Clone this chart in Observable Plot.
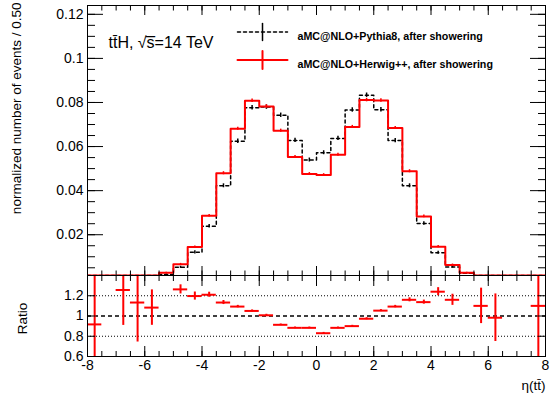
<!DOCTYPE html>
<html><head><meta charset="utf-8">
<script src="https://cdn.jsdelivr.net/npm/d3@7"></script>
<script src="https://cdn.jsdelivr.net/npm/@observablehq/plot@0.6"></script>
<style>
html,body{margin:0;padding:0;background:#fff;}
#chart{position:relative;width:556px;height:400px;font-family:"Liberation Sans",Arial,sans-serif;}
#chart svg{position:absolute;left:0;overflow:visible;background:transparent;}
</style></head><body><div id="chart"></div>
<script>
// ---- data ----
const binLow = [-8,-7.5,-7,-6.5,-6,-5.5,-5,-4.5,-4,-3.5,-3,-2.5,-2,-1.5,-1,-0.5,0,0.5,1,1.5,2,2.5,3,3.5,4,4.5,5,5.5,6,6.5,7,7.5];
const binWidth = 0.5;
const herwig = [0.0003,0.0001,0.0002,0.0004,0.0010,0.0027,0.0066,0.0144,0.0286,0.0479,0.0681,0.0808,0.0782,0.0672,0.0553,0.0476,
                0.0471,0.0563,0.0689,0.0811,0.0809,0.0684,0.0488,0.0283,0.0146,0.0063,0.0027,0.0008,0.0003,0.0001,0.0001,0.0002];
const herwigErr = [0.0001,0.0001,0.0001,0.0001,0.0002,0.0003,0.0004,0.0005,0.0006,0.0007,0.0007,0.0008,0.0008,0.0007,0.0007,0.0006,
                   0.0006,0.0007,0.0007,0.0008,0.0008,0.0007,0.0007,0.0006,0.0005,0.0004,0.0003,0.0002,0.0001,0.0001,0.0001,0.0001];
const pythia = [0.0003,0.0001,0.0002,0.0003,0.0009,0.0019,0.0052,0.0120,0.0238,0.0422,0.0624,0.0776,0.0779,0.0742,0.0628,0.0539,
                0.0572,0.0637,0.0766,0.0833,0.0767,0.0627,0.0422,0.0251,0.0118,0.0054,0.0025,0.0007,0.0003,0.0001,0.0001,0.0002];
const pythiaErr = [0.0001,0.0001,0.0001,0.0001,0.0002,0.0003,0.0005,0.0007,0.0008,0.0009,0.0010,0.0010,0.0010,0.0010,0.0010,0.0009,
                   0.0009,0.0010,0.0010,0.0010,0.0010,0.0010,0.0009,0.0008,0.0007,0.0005,0.0003,0.0002,0.0001,0.0001,0.0001,0.0001];
const ratio = [0.917,null,1.257,1.133,1.083,null,1.263,1.197,1.21,1.133,1.093,1.05,1.007,0.913,0.883,0.883,
               0.83,0.883,0.9,0.973,1.053,1.093,1.16,1.137,1.24,1.16,null,1.1,0.983,null,null,1.1];
const ratioErr = [0.9,0,0.35,0.39,0.175,0,0.045,0.04,0.025,0.02,0.012,0.01,0.01,0.008,0.008,0.008,
                  0.008,0.008,0.008,0.01,0.01,0.012,0.02,0.02,0.04,0.055,0,0.175,0.235,0,0,0.9];
const xMajorTicks = [-8,-6,-4,-2,0,2,4,6,8];
const xMinorTicks = d3.range(-8, 8.001, 0.5);
const yTopTicks = [0.02,0.04,0.06,0.08,0.1,0.12];
const yTopMinor = d3.range(0.005, 0.1231, 0.005);
const yRatioTicks = [0.6,0.8,1,1.2];
const ratioDotted = [0.8,1.2];
const ratioDashed = [1];
const legendLabels = ["aMC@NLO+Pythia8, after showering","aMC@NLO+Herwig++, after showering"];
const yTitle = "normalized number of events / 0.50";
const ratioTitle = "Ratio";
const xTitle = "η(tt\u0304)";
const procLabel = "tt\u0304H, √s\u0305=14 TeV";

// ---- helpers ----
const font = "'Liberation Sans', Arial, sans-serif";
const steps = vals => vals.flatMap((v, i) => [{x: binLow[i], y: v}, {x: binLow[i] + binWidth, y: v}]);
const bins = (vals, errs) => vals.map((v, i) => ({lo: binLow[i], hi: binLow[i] + binWidth, c: binLow[i] + binWidth / 2, v, e: errs[i]}));
const seg = {draw(ctx, l) { ctx.moveTo(0, 0); ctx.lineTo(0, -l); }};
function inTicks(axis, anchor, values, size) {
  const A = axis === "x" ? Plot.axisX : Plot.axisY;
  return A(values, {anchor, tickSize: -size, tickFormat: () => "", label: null, stroke: "black", strokeWidth: 1});
}

const W = 556, ML = 87, MR = 11;
const LEG1 = 26.5, LEG2 = 54.5;
const chart = document.getElementById("chart");

// ---- top panel ----
const hBins = bins(herwig, herwigErr), pBins = bins(pythia, pythiaErr);
const topPlot = Plot.plot({
  width: W, height: 275, marginTop: 5, marginBottom: 0, marginLeft: ML, marginRight: MR,
  style: {fontFamily: font, fontSize: "14px", background: "transparent", overflow: "visible"},
  x: {domain: [-8, 8], axis: null, label: null},
  y: {domain: [0.0015, 0.124], axis: null, label: null, clamp: true},
  marks: [
    Plot.line(steps(pythia), {x: "x", y: "y", stroke: "black", strokeWidth: 1.5, strokeDasharray: "3,3", clip: true}),
    Plot.ruleX(pBins, {x: "c", y1: d => d.v - d.e, y2: d => d.v + d.e, stroke: "black", strokeWidth: 1.5, clip: true}),
    Plot.line(steps(herwig), {x: "x", y: "y", stroke: "#ff0000", strokeWidth: 2, clip: true}),
    Plot.ruleX(hBins, {x: "c", y1: d => d.v - d.e, y2: d => d.v + d.e, stroke: "#ff0000", strokeWidth: 1.5, clip: true}),
    inTicks("x", "bottom", xMinorTicks, 4.5),
    inTicks("x", "bottom", xMajorTicks, 9),
    inTicks("x", "top", xMinorTicks, 4.5),
    inTicks("x", "top", xMajorTicks, 9),
    inTicks("y", "left", yTopMinor, 8),
    inTicks("y", "left", yTopTicks, 16),
    inTicks("y", "right", yTopMinor, 8),
    inTicks("y", "right", yTopTicks, 16),
    Plot.axisY(yTopTicks, {anchor: "left", tickSize: 0, tickPadding: 4, label: null, fontSize: 14, tickFormat: d => String(d)}),
    Plot.frame({stroke: "black", strokeWidth: 1}),
    Plot.text([yTitle], {frameAnchor: "top-left", rotate: -90, textAnchor: "end", lineAnchor: "bottom", dx: -66.5, dy: -3, fontSize: 13.5}),
    Plot.text([procLabel], {frameAnchor: "top-left", textAnchor: "start", lineAnchor: "bottom", dx: 21, dy: 42, fontSize: 16}),
    // legend
    Plot.vector([legendLabels[0]], {frameAnchor: "top-left", dx: 150, dy: LEG1, rotate: 90, length: 50, anchor: "start", shape: seg, stroke: "black", strokeWidth: 1.5, strokeDasharray: "3,3"}),
    Plot.vector([legendLabels[0]], {frameAnchor: "top-left", dx: 175, dy: LEG1, rotate: 0, length: 17, anchor: "middle", shape: seg, stroke: "black", strokeWidth: 1.5}),
    Plot.text([legendLabels[0]], {frameAnchor: "top-left", textAnchor: "start", dx: 210, dy: LEG1, fontSize: 10.7, fontWeight: "bold"}),
    Plot.vector([legendLabels[1]], {frameAnchor: "top-left", dx: 150, dy: LEG2, rotate: 90, length: 50, anchor: "start", shape: seg, stroke: "#ff0000", strokeWidth: 2}),
    Plot.vector([legendLabels[1]], {frameAnchor: "top-left", dx: 175, dy: LEG2, rotate: 0, length: 18, anchor: "middle", shape: seg, stroke: "#ff0000", strokeWidth: 2}),
    Plot.text([legendLabels[1]], {frameAnchor: "top-left", textAnchor: "start", dx: 210, dy: LEG2, fontSize: 10.7, fontWeight: "bold"})
  ]
});
topPlot.style.top = "0px";
chart.appendChild(topPlot);

// ---- ratio panel ----
const rBins = ratio.map((r, i) => ({lo: binLow[i], hi: binLow[i] + binWidth, c: binLow[i] + binWidth / 2, r, e: ratioErr[i]})).filter(d => d.r != null);
const bottomPlot = Plot.plot({
  width: W, height: 125, marginTop: 0, marginBottom: 44, marginLeft: ML, marginRight: MR,
  style: {fontFamily: font, fontSize: "14px", background: "transparent", overflow: "visible"},
  x: {domain: [-8, 8], axis: null, label: null},
  y: {domain: [0.6, 1.4], axis: null, label: null},
  marks: [
    Plot.ruleY(ratioDotted, {stroke: "black", strokeWidth: 1, strokeDasharray: "1,2"}),
    Plot.ruleY(ratioDashed, {stroke: "black", strokeWidth: 1.5, strokeDasharray: "4,3"}),
    Plot.ruleY(rBins, {y: "r", x1: "lo", x2: "hi", stroke: "#ff0000", strokeWidth: 2, clip: true}),
    Plot.ruleX(rBins, {x: "c", y1: d => d.r - d.e, y2: d => d.r + d.e, stroke: "#ff0000", strokeWidth: 2, clip: true}),
    inTicks("x", "bottom", xMinorTicks, 5),
    inTicks("x", "bottom", xMajorTicks, 10),
    inTicks("x", "top", xMinorTicks, 5),
    inTicks("x", "top", xMajorTicks, 10),
    inTicks("y", "left", yRatioTicks, 8),
    inTicks("y", "right", yRatioTicks, 8),
    Plot.axisY(yRatioTicks, {anchor: "left", tickSize: 0, tickPadding: 4, label: null, fontSize: 14, tickFormat: d => String(d)}),
    Plot.axisX(xMajorTicks, {anchor: "bottom", tickSize: 0, tickPadding: 4, label: null, fontSize: 14, tickFormat: d => String(d)}),
    Plot.frame({stroke: "black", strokeWidth: 1}),
    Plot.text([ratioTitle], {frameAnchor: "left", rotate: -90, textAnchor: "middle", lineAnchor: "bottom", dx: -60.5, dy: 2.5, fontSize: 13.5}),
    Plot.text([xTitle], {frameAnchor: "bottom-right", textAnchor: "end", lineAnchor: "bottom", dx: 0, dy: 33, fontSize: 13.5})
  ]
});
bottomPlot.style.top = "275px";
chart.appendChild(bottomPlot);
</script></body></html>
